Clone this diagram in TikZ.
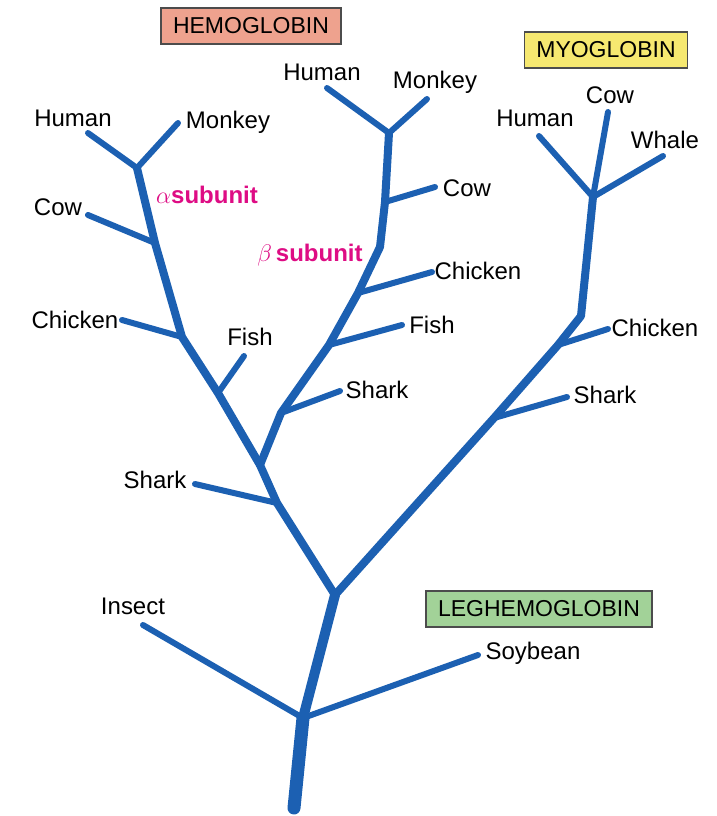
\documentclass[tikz,border=0pt]{standalone}
\usepackage{fontspec}
\setmainfont{Liberation Sans}
\usetikzlibrary{positioning}
\definecolor{treeblue}{RGB}{28,96,178}
\definecolor{subpink}{RGB}{222,12,132}
\definecolor{hemofill}{RGB}{238,162,142}
\definecolor{myofill}{RGB}{246,232,112}
\definecolor{leghfill}{RGB}{162,210,152}

\tikzset{
  stem/.style={draw=treeblue, line width=4pt, line cap=round, line join=round},
  twig/.style={draw=treeblue, line width=3pt, line cap=round},
  trunk/.style={draw=treeblue, line width=6.5pt, line cap=round, line join=round},
  leaf/.style={font=\fontsize{12}{14}\selectfont, inner sep=1pt},
  family/.style={draw=black!70, line width=0.6pt, font=\fontsize{11.5}{13}\selectfont,
    minimum height=18pt, inner xsep=6pt},
  sublabel/.style={text=subpink, font=\fontsize{12}{14}\selectfont\bfseries, inner sep=1pt},
}

\begin{document}
\begin{tikzpicture}[x=0.5pt, y=-0.5pt]
    \useasboundingbox[fill=white] (0,0) rectangle (717,816);

    % Family boxes
    \node[family, fill=hemofill] (hemo) at (251,26) {HEMOGLOBIN};
    \node[family, fill=myofill] (myo) at (606,50) {MYOGLOBIN};
    \node[family, fill=leghfill] (legh) at (539,609) {LEGHEMOGLOBIN};

    % Trunk and leghemoglobin
    \coordinate (base) at (294,808);
    \coordinate (root) at (303,718);
    \coordinate (fork) at (335,595);
    \coordinate (insect) at (143,625);
    \coordinate (soybean) at (478,655);
    \draw[trunk] (base) -- (root);
    \draw[stem, line width=5pt] (root) -- (fork);
    \draw[twig] (root) -- (insect);
    \draw[twig] (root) -- (soybean);
    \node[leaf] (tInsect) at (133,606) {Insect};
    \node[leaf] (tSoybean) at (533,653) {Soybean};

    % Hemoglobin alpha subunit
    \coordinate (aShark) at (277,503);
    \coordinate (aSplit) at (260,465);
    \coordinate (aFish) at (218,393);
    \coordinate (aChicken) at (182,337);
    \coordinate (aCow) at (155,243);
    \coordinate (aTop) at (137,168);
    \coordinate (aSharkEnd) at (195,484);
    \coordinate (aFishEnd) at (244,356);
    \coordinate (aChickenEnd) at (122,320);
    \coordinate (aCowEnd) at (88,215);
    \coordinate (aHumanEnd) at (88,133);
    \coordinate (aMonkeyEnd) at (178,123);
    \draw[stem] (fork) -- (aShark) -- (aSplit) -- (aFish) -- (aChicken) -- (aCow) -- (aTop);
    \draw[twig] (aShark) -- (aSharkEnd);
    \draw[twig] (aFish) -- (aFishEnd);
    \draw[twig] (aChicken) -- (aChickenEnd);
    \draw[twig] (aCow) -- (aCowEnd);
    \draw[twig] (aTop) -- (aHumanEnd);
    \draw[twig] (aTop) -- (aMonkeyEnd);
    \node[leaf] (tAShark) at (155,480) {Shark};
    \node[leaf] (tAFish) at (250,337) {Fish};
    \node[leaf] (tAChicken) at (75,320) {Chicken};
    \node[leaf] (tACow) at (58,207) {Cow};
    \node[leaf] (tAHuman) at (73,118) {Human};
    \node[leaf] (tAMonkey) at (228,122) {Monkey};
    \node[sublabel] (alpha) at (207,195) {$\alpha$subunit};

    % Hemoglobin beta subunit
    \coordinate (bShark) at (281,413);
    \coordinate (bFish) at (329,345);
    \coordinate (bChicken) at (358,293);
    \coordinate (bBend) at (380,247);
    \coordinate (bCow) at (385,202);
    \coordinate (bTop) at (389,133);
    \coordinate (bSharkEnd) at (340,391);
    \coordinate (bFishEnd) at (402,325);
    \coordinate (bChickenEnd) at (432,272);
    \coordinate (bCowEnd) at (435,187);
    \coordinate (bHumanEnd) at (327,88);
    \coordinate (bMonkeyEnd) at (427,99);
    \draw[stem] (aSplit) -- (bShark) -- (bFish) -- (bChicken) -- (bBend) -- (bCow) -- (bTop);
    \draw[twig] (bShark) -- (bSharkEnd);
    \draw[twig] (bFish) -- (bFishEnd);
    \draw[twig] (bChicken) -- (bChickenEnd);
    \draw[twig] (bCow) -- (bCowEnd);
    \draw[twig] (bTop) -- (bHumanEnd);
    \draw[twig] (bTop) -- (bMonkeyEnd);
    \node[leaf] (tBShark) at (377,390) {Shark};
    \node[leaf] (tBFish) at (432,325) {Fish};
    \node[leaf] (tBChicken) at (478,271) {Chicken};
    \node[leaf] (tBCow) at (467,188) {Cow};
    \node[leaf] (tBHuman) at (322,72) {Human};
    \node[leaf] (tBMonkey) at (435,82) {Monkey};
    \node[sublabel] (beta) at (310,255) {$\beta$\,subunit};

    % Myoglobin
    \coordinate (mShark) at (494,418);
    \coordinate (mChicken) at (558,345);
    \coordinate (mBend) at (581,316);
    \coordinate (mTop) at (593,197);
    \coordinate (mSharkEnd) at (567,397);
    \coordinate (mChickenEnd) at (608,329);
    \coordinate (mHumanEnd) at (539,136);
    \coordinate (mCowEnd) at (608,112);
    \coordinate (mWhaleEnd) at (663,156);
    \draw[stem] (fork) -- (mShark) -- (mChicken) -- (mBend) -- (mTop);
    \draw[twig] (mShark) -- (mSharkEnd);
    \draw[twig] (mChicken) -- (mChickenEnd);
    \draw[twig] (mTop) -- (mHumanEnd);
    \draw[twig] (mTop) -- (mCowEnd);
    \draw[twig] (mTop) -- (mWhaleEnd);
    \node[leaf] (tMShark) at (605,395) {Shark};
    \node[leaf] (tMChicken) at (655,328) {Chicken};
    \node[leaf] (tMHuman) at (535,118) {Human};
    \node[leaf] (tMCow) at (610,95) {Cow};
    \node[leaf] (tMWhale) at (665,140) {Whale};
\end{tikzpicture}
\end{document}
